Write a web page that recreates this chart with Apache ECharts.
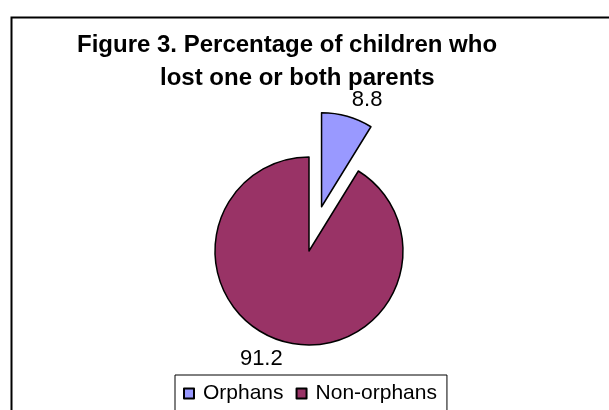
<!DOCTYPE html>
<html>
<head>
<meta charset="utf-8">
<script src="https://cdn.jsdelivr.net/npm/echarts@6/dist/echarts.min.js"></script>
<style>
html,body{margin:0;padding:0;background:#fff;}
#chart{width:609px;height:410px;}
</style>
</head>
<body>
<div id="chart"></div>
<script>
const categories = ['Orphans', 'Non-orphans'];
const values = [8.8, 91.2];
const colors = ['#9999FF', '#993366'];
const titleLines = ['Figure 3. Percentage of children who', 'lost one or both parents'];

const FONT = "'Liberation Sans', Arial, sans-serif";
const cx = 309, cy = 251, R = 94, OFF = 46;
const total = values.reduce((a, b) => a + b, 0);

function labelPos(i) {
  let cum = 0;
  for (let k = 0; k < i; k++) cum += values[k];
  const mid = (cum + values[i] / 2) / total * 2 * Math.PI;
  const a = mid + 8 * Math.PI / 180;
  const d = R + 24;
  return [cx + d * Math.sin(a), cy - d * Math.cos(a)];
}

const chart = echarts.init(document.getElementById('chart'), null, {renderer: 'canvas'});
chart.setOption({
  animation: false,
  backgroundColor: '#fff',
  title: [
    {text: titleLines[0], left: 77, top: 33, padding: 0,
     textStyle: {fontFamily: FONT, fontSize: 24, fontWeight: 'bold', color: '#000'}},
    {text: titleLines[1], left: 160, top: 66, padding: 0,
     textStyle: {fontFamily: FONT, fontSize: 24, fontWeight: 'bold', color: '#000'}}
  ],
  graphic: [{
    type: 'rect', left: 9, top: 15, silent: true,
    shape: {x: 0, y: 0, width: 700, height: 500},
    style: {fill: null, stroke: '#000', lineWidth: 2}
  }],
  legend: {
    data: categories,
    left: 175, top: 375,
    orient: 'horizontal',
    padding: [8, 10, 40, 8],
    borderColor: '#000', borderWidth: 1,
    itemWidth: 10, itemHeight: 10, itemGap: 12,
    icon: 'rect',
    textStyle: {fontFamily: FONT, fontSize: 21, color: '#000', padding: [0, 0, 0, 4]}
  },
  series: [{
    type: 'pie',
    center: [cx, cy],
    radius: [0, R],
    startAngle: 90,
    clockwise: true,
    selectedMode: 'single',
    selectedOffset: OFF,
    avoidLabelOverlap: false,
    itemStyle: {borderColor: '#000', borderWidth: 1.5},
    label: {show: true, position: 'outside', fontFamily: FONT, fontSize: 22, color: '#000',
            formatter: p => p.value.toFixed(1)},
    labelLine: {show: false},
    labelLayout: function (params) {
      if (params.dataIndex === 0) return {};
      const p = labelPos(params.dataIndex);
      return {x: p[0], y: p[1], align: 'center', verticalAlign: 'middle'};
    },
    emphasis: {disabled: true},
    data: categories.map((c, i) => {
      const item = {name: c, value: values[i], selected: i === 0, itemStyle: {color: colors[i]}};
      if (i === 0) {
        item.labelLine = {show: false, length: 17, length2: 0};
        item.label = {distanceToLabelLine: 0};
      }
      return item;
    })
  }]
});
</script>
</body>
</html>
